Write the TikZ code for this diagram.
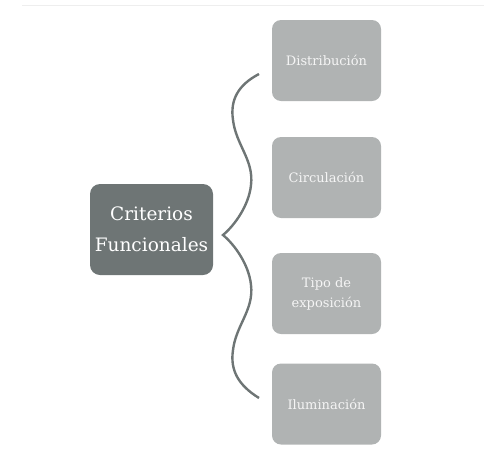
\documentclass[tikz,border=0pt]{standalone}
\usepackage{fontspec}
\setmainfont{DejaVu Serif}
\usetikzlibrary{positioning}
\definecolor{critDark}{RGB}{110,117,117}
\definecolor{critLight}{RGB}{176,179,179}
\definecolor{ruleGray}{RGB}{238,238,238}

\begin{document}
\begin{tikzpicture}[x=1pt,y=-1pt,
        mainbox/.style={rounded corners=10pt,fill=critDark,text=white,minimum width=123pt,
                  minimum height=91pt,align=center,inner sep=0pt,
                  font=\fontsize{18.5}{31}\selectfont},
        subbox/.style={rounded corners=9pt,fill=critLight,text=white!96!black,minimum width=109pt,
                  minimum height=81pt,align=center,inner sep=0pt,
                  font=\fontsize{13}{20}\selectfont},
        brace/.style={draw=critDark,line width=2.4pt}]
        \useasboundingbox (0,0) rectangle (484,453);
        \draw[ruleGray,line width=0.8pt] (22,5) -- (484,5);
        \node[mainbox] (crit) at (151.5,229.5) {Criterios\\Funcionales};
        \foreach \n/\y/\t in {dist/60.5/Distribución,circ/177.5/Circulación,
                              tipo/293.5/{Tipo de\\exposición},ilum/404/Iluminación}
          \node[subbox] (\n) at (326.5,\y) {\t};
        \coordinate (tip) at (223,235);
        \draw[brace] (259,74) .. controls (238,85) and (230,100) .. (233,120)
          .. controls (236,145) and (254,160) .. (251,185)
          .. controls (249,205) and (235,225) .. (tip)
          .. controls (235,245) and (249,265) .. (251,285)
          .. controls (254,310) and (236,325) .. (233,350)
          .. controls (230,370) and (238,385) .. (259,398);
      \end{tikzpicture}
\end{document}
